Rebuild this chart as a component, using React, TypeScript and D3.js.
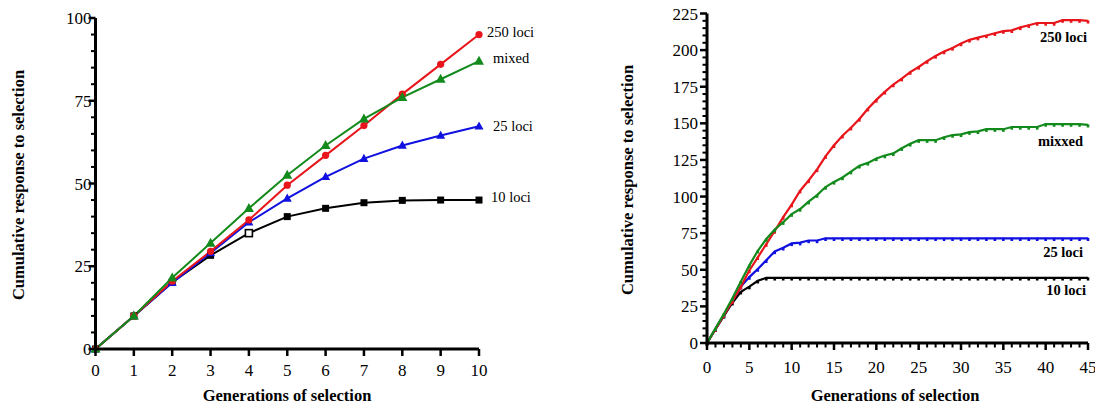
import React from 'react';
import * as d3 from 'd3';

// ---------- Left panel data ----------
const leftGens = [0, 1, 2, 3, 4, 5, 6, 7, 8, 9, 10];
const left250 = [0, 10, 20.5, 29.5, 39, 49.5, 58.5, 67.5, 77, 86, 95];
const leftMixed = [0, 10, 21.5, 32, 42.5, 52.5, 61.5, 69.5, 76, 81.5, 87];
const left25 = [0, 10, 20, 29, 38.3, 45.5, 52, 57.5, 61.5, 64.5, 67.3];
const left10 = [0, 10, 20.2, 28.3, 35, 40, 42.5, 44.2, 44.9, 45, 45];
const leftXTicks = [0, 1, 2, 3, 4, 5, 6, 7, 8, 9, 10];
const leftYTicks = [0, 25, 50, 75, 100];

// ---------- Right panel data ----------
const rightGens = d3.range(0, 46);
const right250 = [0, 9.5, 19, 28.5, 38.5, 49.5, 58.5, 67.5, 76.5, 86, 94.5, 104, 111, 118.5, 127.5, 135, 141.5, 147, 153, 160, 166, 171.5, 176.5, 180.5, 185, 188.5, 192.5, 196, 199, 201.5, 204.5, 207, 208.5, 210, 211.5, 213, 213.5, 215.5, 217, 218.5, 218.5, 218.5, 220.5, 220.5, 220.5, 220];
const rightMixed = [0, 10, 20, 30.5, 42, 53, 63, 71, 77.5, 82.5, 88, 91.5, 96.5, 101, 106.5, 110, 113, 117, 121, 123, 126, 128, 129.5, 133, 136, 138.5, 138.5, 138.5, 140.5, 142, 142.5, 144, 144.5, 146, 146, 146, 147.5, 147.5, 147.5, 147.5, 149.5, 149.5, 149.5, 149.5, 149.5, 149];
const right25 = [0, 9.5, 19, 28.5, 38.5, 45, 50.5, 56.5, 62.5, 65, 68, 68.5, 70, 70, 71.5, 71.5, 71.5, 71.5, 71.5, 71.5, 71.5, 71.5, 71.5, 71.5, 71.5, 71.5, 71.5, 71.5, 71.5, 71.5, 71.5, 71.5, 71.5, 71.5, 71.5, 71.5, 71.5, 71.5, 71.5, 71.5, 71.5, 71.5, 71.5, 71.5, 71.5, 71.5];
const right10 = [0, 9.5, 18.5, 27.5, 35, 38.5, 42.5, 44.5, 44.5, 44.5, 44.5, 44.5, 44.5, 44.5, 44.5, 44.5, 44.5, 44.5, 44.5, 44.5, 44.5, 44.5, 44.5, 44.5, 44.5, 44.5, 44.5, 44.5, 44.5, 44.5, 44.5, 44.5, 44.5, 44.5, 44.5, 44.5, 44.5, 44.5, 44.5, 44.5, 44.5, 44.5, 44.5, 44.5, 44.5, 44.5];
const rightXTicks = [0, 5, 10, 15, 20, 25, 30, 35, 40, 45];
const rightYTicks = [0, 25, 50, 75, 100, 125, 150, 175, 200, 225];

const FONT = '"Liberation Serif", "Times New Roman", serif';
const RED = '#e8151b';
const GREEN = '#138a1c';
const BLUE = '#1010e0';
const BLACK = '#000';

function tri(x: number, y: number, s: number) {
  const h = s * 0.9;
  return `M${x},${y - h * 0.6}L${x + s / 2},${y + h * 0.4}L${x - s / 2},${y + h * 0.4}Z`;
}

function LeftPanel() {
  const x = d3.scaleLinear().domain([0, 10]).range([95.5, 479]);
  const y = d3.scaleLinear().domain([0, 100]).range([349, 18]);
  const line = d3.line<number>().x((_, i) => x(leftGens[i])).y((d) => y(d));
  const minorY = d3.range(0, 101, 5).filter((v) => v % 25 !== 0);
  return (
    <g>
      {/* series lines */}
      <path d={line(left10) || ''} fill="none" stroke={BLACK} strokeWidth={2} />
      <path d={line(left25) || ''} fill="none" stroke={BLUE} strokeWidth={2} />
      <path d={line(left250) || ''} fill="none" stroke={RED} strokeWidth={2} />
      <path d={line(leftMixed) || ''} fill="none" stroke={GREEN} strokeWidth={2} />
      {/* markers */}
      {left10.map((v, i) => (
        <rect key={'b' + i} x={x(leftGens[i]) - 3.5} y={y(v) - 3.5} width={7} height={7}
          fill={i === 4 ? '#fff' : BLACK} stroke={BLACK} strokeWidth={i === 4 ? 1.6 : 0} />
      ))}
      {left25.map((v, i) => (
        <path key={'u' + i} d={tri(x(leftGens[i]), y(v), 9)} fill={BLUE} />
      ))}
      {left250.map((v, i) => (
        <circle key={'r' + i} cx={x(leftGens[i])} cy={y(v)} r={3.6} fill={RED} />
      ))}
      {leftMixed.map((v, i) => (
        <path key={'g' + i} d={tri(x(leftGens[i]), y(v), 10)} fill={GREEN} />
      ))}
      {/* axes */}
      <line x1={x(0)} x2={x(10)} y1={y(0)} y2={y(0)} stroke="#000" strokeWidth={3} />
      <line x1={x(0)} x2={x(0)} y1={y(0) + 1.5} y2={y(100)} stroke="#000" strokeWidth={3} />
      {leftXTicks.map((t) => (
        <g key={'xt' + t}>
          <line x1={x(t)} x2={x(t)} y1={y(0)} y2={y(0) + 7} stroke="#000" strokeWidth={2.5} />
          <text x={x(t)} y={y(0) + 27} textAnchor="middle" fontSize={17} fontFamily={FONT}>{t}</text>
        </g>
      ))}
      {leftYTicks.map((t) => (
        <g key={'yt' + t}>
          <line x1={x(0) - 7} x2={x(0)} y1={y(t)} y2={y(t)} stroke="#000" strokeWidth={2.5} />
          <text x={x(0) - 4} y={y(t) + 6} textAnchor="end" fontSize={17} fontFamily={FONT}>{t}</text>
        </g>
      ))}
      {minorY.map((t) => (
        <line key={'my' + t} x1={x(0) - 4.5} x2={x(0)} y1={y(t)} y2={y(t)} stroke="#000" strokeWidth={2} />
      ))}
      {/* labels */}
      <text x={487} y={37} fontSize={14.5} fontFamily={FONT}>250 loci</text>
      <text x={493} y={63} fontSize={14.5} fontFamily={FONT}>mixed</text>
      <text x={493} y={131} fontSize={14.5} fontFamily={FONT}>25 loci</text>
      <text x={491} y={202} fontSize={14.5} fontFamily={FONT}>10 loci</text>
      <text x={287} y={401} textAnchor="middle" fontSize={16.5} fontWeight="bold" fontFamily={FONT}>Generations of selection</text>
      <text transform="translate(24,185) rotate(-90)" textAnchor="middle" fontSize={16.5} fontWeight="bold" fontFamily={FONT}>Cumulative response to selection</text>
    </g>
  );
}

function RightPanel() {
  const x = d3.scaleLinear().domain([0, 45]).range([707, 1088]);
  const y = d3.scaleLinear().domain([0, 225]).range([343, 13.5]);
  const line = d3.line<number>().x((_, i) => x(rightGens[i])).y((d) => y(d));
  const minorY = d3.range(0, 226, 5).filter((v) => v % 25 !== 0);
  const minorX = d3.range(0, 46, 1).filter((v) => v % 5 !== 0);
  const series = [
    { vals: right10, color: BLACK },
    { vals: right25, color: BLUE },
    { vals: right250, color: RED },
    { vals: rightMixed, color: GREEN },
  ];
  return (
    <g>
      {series.map((s, k) => (
        <g key={'s' + k}>
          <path d={line(s.vals) || ''} fill="none" stroke={s.color} strokeWidth={2.2} />
          {s.vals.map((v, i) => (
            <rect key={i} x={x(rightGens[i]) - 1.3} y={y(v) - 0.5} width={2.6} height={3.2} fill={s.color} />
          ))}
        </g>
      ))}
      <line x1={x(0)} x2={x(45)} y1={y(0)} y2={y(0)} stroke="#000" strokeWidth={3} />
      <line x1={x(0)} x2={x(0)} y1={y(0) + 1.5} y2={y(225)} stroke="#000" strokeWidth={3} />
      {rightXTicks.map((t) => (
        <g key={'xt' + t}>
          <line x1={x(t)} x2={x(t)} y1={y(0)} y2={y(0) + 7} stroke="#000" strokeWidth={2.5} />
          <text x={x(t)} y={y(0) + 30} textAnchor="middle" fontSize={17} fontFamily={FONT}>{t}</text>
        </g>
      ))}
      {minorX.map((t) => (
        <line key={'mx' + t} x1={x(t)} x2={x(t)} y1={y(0)} y2={y(0) + 4.5} stroke="#000" strokeWidth={2} />
      ))}
      {rightYTicks.map((t) => (
        <g key={'yt' + t}>
          <line x1={x(0) - 7} x2={x(0)} y1={y(t)} y2={y(t)} stroke="#000" strokeWidth={2.5} />
          <text x={x(0) - 9} y={y(t) + 6} textAnchor="end" fontSize={17} fontFamily={FONT}>{t}</text>
        </g>
      ))}
      {minorY.map((t) => (
        <line key={'my' + t} x1={x(0) - 4.5} x2={x(0)} y1={y(t)} y2={y(t)} stroke="#000" strokeWidth={2} />
      ))}
      <text x={1087} y={42} textAnchor="end" fontSize={14.5} fontWeight="bold" fontFamily={FONT}>250 loci</text>
      <text x={1083} y={146} textAnchor="end" fontSize={14.5} fontWeight="bold" fontFamily={FONT}>mixxed</text>
      <text x={1083} y={257} textAnchor="end" fontSize={14.5} fontWeight="bold" fontFamily={FONT}>25 loci</text>
      <text x={1086} y={295} textAnchor="end" fontSize={14.5} fontWeight="bold" fontFamily={FONT}>10 loci</text>
      <text x={895} y={401} textAnchor="middle" fontSize={16.5} fontWeight="bold" fontFamily={FONT}>Generations of selection</text>
      <text transform="translate(633,180) rotate(-90)" textAnchor="middle" fontSize={16.5} fontWeight="bold" fontFamily={FONT}>Cumulative response to selection</text>
    </g>
  );
}

export default function App() {
  return (
    <svg width={1095} height={406} style={{ position: 'absolute', left: 0, top: 0, background: '#fff' }}>
      <rect width={1095} height={406} fill="#fff" />
      <LeftPanel />
      <RightPanel />
    </svg>
  );
}
